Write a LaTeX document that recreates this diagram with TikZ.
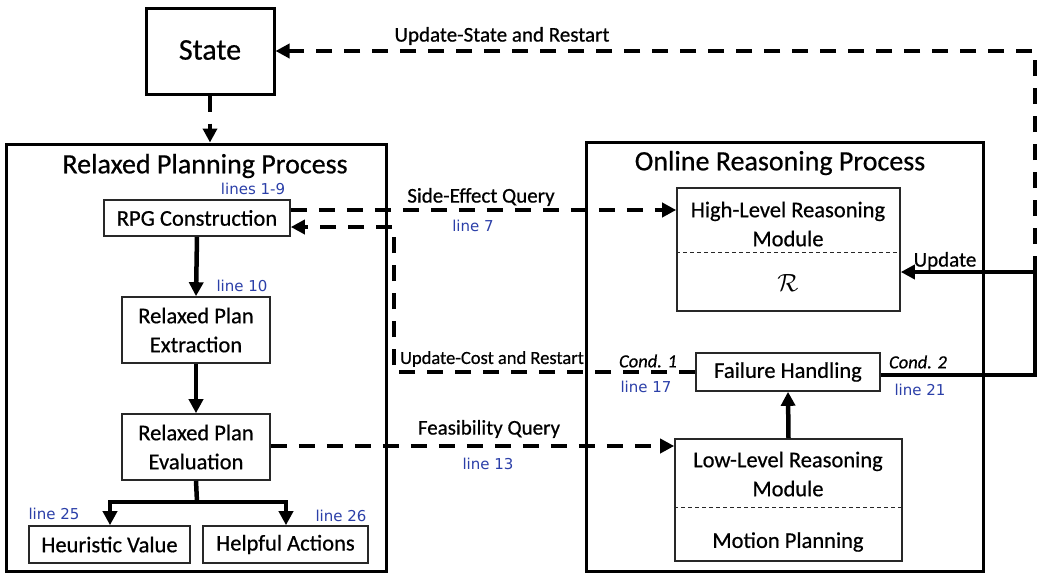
\documentclass[tikz,border=0pt]{standalone}
\usepackage{fontspec}
\setmainfont{Carlito}[FakeBold=0.6]
\newfontfamily\dejavu{DejaVu Sans}
\usetikzlibrary{arrows.meta}
\definecolor{lblue}{RGB}{43,63,168}
\definecolor{boxline}{RGB}{40,40,40}
\begin{document}
\begin{tikzpicture}[x=1pt,y=-1pt,
  bigbox/.style={draw=black, line width=3pt, inner sep=0pt},
  box/.style={draw=boxline, line width=1.6pt, inner sep=0pt, align=center,
     font=\fontsize{22.5}{29}\selectfont},
  txt/.style={inner sep=0pt, align=center, font=\fontsize{22.5}{29}\selectfont},
  title/.style={inner sep=0pt, font=\fontsize{28}{32}\selectfont},
  lbl/.style={inner sep=0pt, font=\fontsize{21}{24}\selectfont},
  cond/.style={inner sep=0pt, font=\fontsize{18.5}{22}\selectfont\itshape},
  blue/.style={inner sep=0pt, text=lblue, font=\dejavu\fontsize{15}{18}\selectfont},
  tip/.style={-{Triangle[length=14pt,width=14pt]}},
  solidarr/.style={line width=4.5pt, tip},
  dsh/.style={line width=4pt, dash pattern=on 16pt off 12pt},
  divider/.style={draw=boxline, line width=0.9pt, dash pattern=on 4pt off 3pt}
]
\useasboundingbox (0,0) rectangle (1037,573);

% containers
\node[bigbox, minimum width=128, minimum height=86] (state) at (210,51) {};
\node[title] (statetxt) at (210,50) {\fontsize{30}{32}\selectfont State};
\node[bigbox, minimum width=380, minimum height=427] (rpp) at (196,357.5) {};
\node[bigbox, minimum width=397, minimum height=429] (orp) at (784.5,356.5) {};
\node[title] (rpptitle) at (205,166) {Relaxed Planning Process};
\node[title] (orptitle) at (780,163) {Online Reasoning Process};

% left boxes
\node[box, minimum width=186, minimum height=36] (rpg) at (197,218) {RPG Construction};
\node[box, minimum width=148, minimum height=66] (rpe) at (196,330) {Relaxed Plan\\Extraction};
\node[box, minimum width=148, minimum height=66] (rpev) at (196,447) {Relaxed Plan\\Evaluation};
\node[box, minimum width=161, minimum height=37] (hv) at (109.5,544.5) {Heuristic Value};
\node[box, minimum width=165, minimum height=37] (ha) at (285.5,544.5) {Helpful Actions};

% right boxes
\node[box, minimum width=223, minimum height=123] (hlr) at (788.5,249.5) {};
\node[txt] (hlrtxt) at (788,224) {High-Level Reasoning\\Module};
\node[txt] (hlrR) at (788,283) {\fontsize{26}{30}\selectfont$\mathcal{R}$};
\draw[divider] (hlr.west |- 0,252) -- (hlr.east |- 0,252);
\node[box, minimum width=184, minimum height=38] (fh) at (788,372) {Failure Handling};
\node[box, minimum width=227, minimum height=122] (llr) at (788.5,500) {};
\node[txt] (llrtxt) at (788,474) {Low-Level Reasoning\\Module};
\node[txt] (llrmp) at (788,542) {Motion Planning};
\draw[divider] (llr.west |- 0,507) -- (llr.east |- 0,507);

% coordinates
\coordinate (sp) at (197,502);
\coordinate (spl) at (110,502);
\coordinate (spr) at (286,502);
\coordinate (uc1) at (394,372);
\coordinate (uc2) at (394,227);
\coordinate (c2) at (1035,375);
\coordinate (c3) at (1035,272);
\coordinate (c4) at (1035,51);

% solid connectors
\draw[solidarr] (rpg.south) -- (rpe.north);
\draw[solidarr] (rpe.south) -- (rpev.north);
\draw[line width=4.5pt] (rpev.south) -- (sp);
\draw[line width=4.5pt, {Triangle[length=14pt,width=14pt]}-{Triangle[length=14pt,width=14pt]}]
   (spl |- hv.north) -- (spl) -- (spr) -- (spr |- ha.north);
\draw[solidarr] (llr.north) -- (fh.south);
\draw[line width=3.5pt, tip] (fh.east |- c2) -- (c2) -- (c3) -- (hlr.east |- c3);

% dashed connectors
\draw[dsh, tip] (state.south) -- (state.south |- rpp.north);
\draw[dsh, tip] (c3) -- (c4) -- (state.east);
\draw[dsh, tip] (rpg.east |- 0,210) -- (hlr.west |- 0,210);
\draw[dsh, tip] (fh.west) -- (uc1) -- (uc2) -- (rpg.east |- uc2);
\draw[dsh, tip] (rpev.east |- 0,446) -- (llr.west |- 0,446);

% labels
\node[lbl] (l1) at (502,36) {Update-State and Restart};
\node[lbl] (l2) at (481,197) {Side-Effect Query};
\node[lbl, font=\fontsize{18.5}{22}\selectfont] (l3) at (492,359) {Update-Cost and Restart};
\node[lbl] (l4) at (489,429) {Feasibility Query};
\node[lbl] (l5) at (945,261) {Update};
\node[cond] (c1l) at (648,361) {Cond. 1};
\node[cond] (c2l) at (918,362) {Cond. 2};

\node[blue] (b1) at (253,189) {lines 1-9};
\node[blue] (b2) at (473,226) {line 7};
\node[blue] (b3) at (242,286) {line 10};
\node[blue] (b4) at (646,387) {line 17};
\node[blue] (b5) at (920,390) {line 21};
\node[blue] (b6) at (488,464) {line 13};
\node[blue] (b7) at (54,514) {line 25};
\node[blue] (b8) at (341,516) {line 26};
\end{tikzpicture}
\end{document}
